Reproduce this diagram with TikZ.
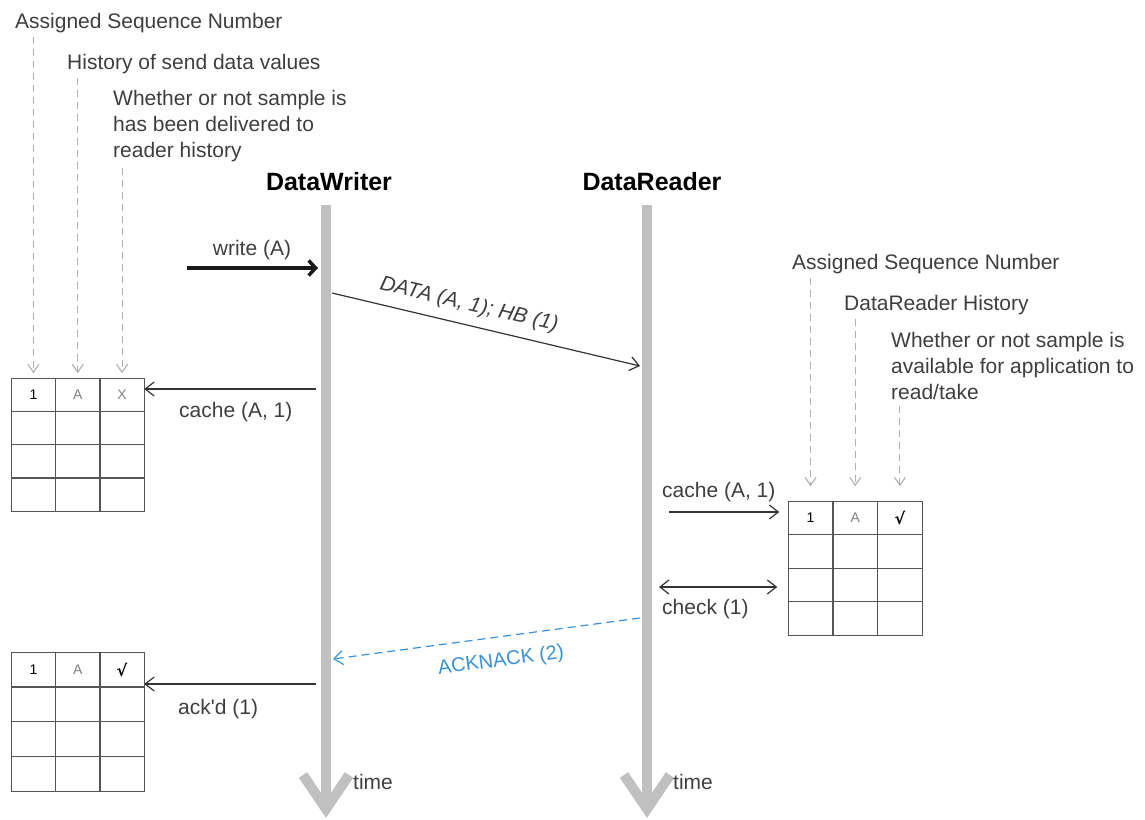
\documentclass[tikz,border=0pt]{standalone}
\usepackage{fontspec}
\setmainfont{Liberation Sans}
\newfontfamily\symfont{DejaVu Sans}
\usetikzlibrary{arrows.meta,matrix}
\definecolor{life}{RGB}{192,192,192}
\definecolor{txt}{RGB}{62,62,62}
\definecolor{tblc}{RGB}{85,85,85}
\definecolor{dgray}{RGB}{175,175,175}
\definecolor{ackblue}{RGB}{58,145,215}
\begin{document}
\begin{tikzpicture}[x=1pt,y=-1pt,
  lbl/.style={text=txt, font=\fontsize{21}{26}\selectfont, inner sep=0pt, align=left},
  title/.style={font=\bfseries\fontsize{25}{30}\selectfont, inner sep=0pt},
  lifeline/.style={draw=life, line width=10pt},
  msgtip/.tip={Straight Barb[length=9pt,width=14pt]},
  msg/.style={draw=black!80, line width=1.2pt, -msgtip},
  hint/.style={draw=dgray, line width=1.1pt, dash pattern=on 7pt off 5pt, -{Straight Barb[length=8pt,width=11pt]}},
  tbl/.style 2 args={matrix of nodes, nodes in empty cells, inner sep=0pt, column sep=-1.3pt, row sep=-1.3pt,
    nodes={draw=tblc, line width=1.3pt, minimum width=#1, minimum height=#2, inner sep=0pt, outer sep=0pt,
      anchor=center, font=\fontsize{14}{14}\selectfont}},
  chk/.style={font=\symfont\bfseries\fontsize{16}{16}\selectfont}
]
\useasboundingbox (0,0) rectangle (1145,819);

% lifelines
\coordinate (wtop) at (326,205);
\coordinate (wbot) at (326,809);
\coordinate (wl) at (303,775);
\coordinate (wr) at (349,775);
\coordinate (rtop) at (647,205);
\coordinate (rbot) at (647,809);
\coordinate (rl) at (624,775);
\coordinate (rr) at (670,775);
\draw[lifeline] (wtop) -- (wbot);
\draw[lifeline, line join=miter] (wl) -- (wbot) -- (wr);
\draw[lifeline] (rtop) -- (rbot);
\draw[lifeline, line join=miter] (rl) -- (rbot) -- (rr);

\node[title] (dw) at (329,182) {DataWriter};
\node[title] (dr) at (652,182) {DataReader};
\node[lbl, anchor=west] (time1) at (353,782) {time};
\node[lbl, anchor=west] (time2) at (673,782) {time};

% tables
\matrix[tbl={44.33pt}{33.25pt}, anchor=north west] (t1) at (10.4,377.4) {
  1 & |[text=gray]| A & |[text=gray]| X \\
    & & \\
    & & \\
    & & \\
};
\matrix[tbl={44.67pt}{33.5pt}, anchor=north west] (t2) at (787.4,500.4) {
  1 & |[text=gray]| A & |[chk]| √ \\
    & & \\
    & & \\
    & & \\
};
\matrix[tbl={44.33pt}{34.75pt}, anchor=north west] (t3) at (10.4,651.4) {
  1 & |[text=gray]| A & |[chk]| √ \\
    & & \\
    & & \\
    & & \\
};

% left hints
\node[lbl, anchor=west] (h1) at (15,23) {Assigned Sequence Number};
\node[lbl, anchor=west] (h2) at (67,64) {History of send data values};
\node[lbl, anchor=west] (h3) at (113,126) {Whether or not sample is\\has been delivered to\\reader history};
\draw[hint, shorten <=4pt, shorten >=5pt] (h1.south -| t1-1-1.north) -- (t1-1-1.north);
\draw[hint, shorten <=4pt, shorten >=5pt] (h2.south -| t1-1-2.north) -- (t1-1-2.north);
\draw[hint, shorten <=6pt, shorten >=5pt] (h3.south -| t1-1-3.north) -- (t1-1-3.north);

% right hints
\node[lbl, anchor=west] (h4) at (792,264) {Assigned Sequence Number};
\node[lbl, anchor=west] (h5) at (844,305) {DataReader History};
\node[lbl, anchor=west] (h6) at (891,366) {Whether or not sample is\\available for application to\\read/take};
\draw[hint, shorten <=4pt, shorten >=15pt] (h4.south -| t2-1-1.north) -- (t2-1-1.north);
\draw[hint, shorten <=4pt, shorten >=15pt] (h5.south -| t2-1-2.north) -- (t2-1-2.north);
\draw[hint, shorten <=6pt, shorten >=15pt] (h6.south -| t2-1-3.north) -- (t2-1-3.north);

% write
\coordinate (wsrc) at (187,268);
\coordinate (wdst) at (318,268);
\draw[black!90, line width=3.5pt, -{Straight Barb[length=7pt,width=15pt]}] (wsrc) -- (wdst);
\node[lbl] (wlab) at (252,250) {write (A)};

% DATA
\coordinate (d1) at (332,293);
\coordinate (d2) at (640,366);
\draw[msg] (d1) -- (d2);
\node[lbl, font=\itshape\fontsize{21}{26}\selectfont, rotate=-13.3] (dlab) at (469,305) {DATA (A, 1); HB (1)};

% writer cache
\coordinate (wc) at (316,389);
\draw[msg] (wc) -- (t1-1-3.east |- wc);
\node[lbl, anchor=west] (wclab) at (179,412) {cache (A, 1)};

% reader cache
\coordinate (rc) at (669,512);
\draw[msg, shorten >=9pt] (rc) -- (t2-1-1.west |- rc);
\node[lbl, anchor=west] (rclab) at (662,492) {cache (A, 1)};

% check
\coordinate (rk) at (659,587);
\draw[msg, msgtip-msgtip, shorten >=11pt] (rk) -- (t2-1-1.west |- rk);
\node[lbl, anchor=west] (rklab) at (662,609) {check (1)};

% ACKNACK
\coordinate (ra) at (640,618);
\coordinate (wa) at (333,659);
\draw[ackblue, line width=1.2pt, dash pattern=on 8pt off 5pt, -{Straight Barb[length=9pt,width=14pt]}] (ra) -- (wa);
\node[lbl, text=ackblue, font=\fontsize{20}{24}\selectfont, rotate=7.6] (alab) at (501,661) {ACKNACK (2)};

% ack'd
\coordinate (wk) at (316,684);
\draw[msg] (wk) -- (t3-1-3.east |- wk);
\node[lbl, anchor=west] (wklab) at (178,709) {ack\textquotesingle d (1)};
\end{tikzpicture}
\end{document}
